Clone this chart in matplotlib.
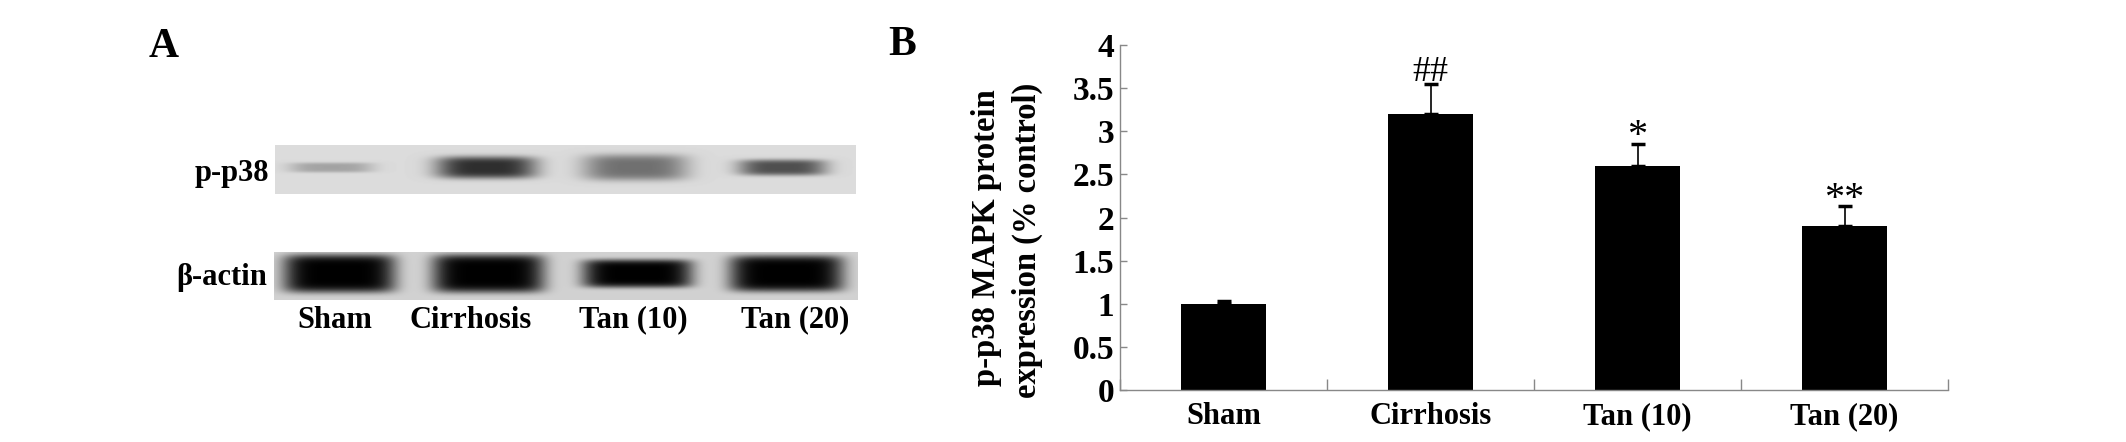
import numpy as np
import matplotlib
matplotlib.use("Agg")
import matplotlib.pyplot as plt

W = 2126
H = 442

categories = ["Sham", "Cirrhosis", "Tan (10)", "Tan (20)"]
expression = [1.0, 3.2, 2.6, 1.9]
errors = [0.03, 0.35, 0.25, 0.23]
marks = ["", "##", "*", "**"]
y_ticks = [0, 0.5, 1, 1.5, 2, 2.5, 3, 3.5, 4]
y_labels = ["0", "0.5", "1", "1.5", "2", "2.5", "3", "3.5", "4"]

# bands: centre and half size in pixels, darkness
p38_x = [331, 486, 635, 782]
p38_half_w = [42, 50, 52, 44]
p38_half_h = [5, 11, 13, 8]
p38_dark = [0.22, 0.68, 0.42, 0.55]
actin_x = [339, 488, 637, 786]
actin_half_w = [56, 56, 55, 57]
actin_half_h = [19, 19, 14, 18]
actin_dark = [0.82, 0.82, 0.82, 0.82]

plt.rcParams["font.family"] = ["Liberation Serif", "DejaVu Serif"]
plt.rcParams["font.weight"] = "bold"


def px_axes(fig, x0, y0, x1, y1):
    # pixel box with y counted from the top of the image
    return fig.add_axes([x0 / W, 1 - y1 / H, (x1 - x0) / W, (y1 - y0) / H])


def draw_blot(fig, box, centres, half_w, half_h, darks, back, y_mid, power):
    x0, y0, x1, y1 = box
    ax = px_axes(fig, x0, y0, x1, y1)
    xx, yy = np.meshgrid(np.arange(x0, x1), np.arange(y0, y1))
    img = np.zeros(xx.shape)
    for c, a, b, d in zip(centres, half_w, half_h, darks):
        r = np.abs((xx - c) / a) ** power + np.abs((yy - y_mid) / b) ** power
        img = img + d * np.exp(-r)
    ax.imshow(back - img, cmap="gray", vmin=0, vmax=1, aspect="auto", interpolation="bilinear")
    ax.axis("off")


fig = plt.figure(figsize=(W / 100, H / 100), dpi=100, facecolor="white")

draw_blot(fig, (275, 145, 856, 194), p38_x, p38_half_w, p38_half_h, p38_dark, 0.86, 167, 4)
draw_blot(fig, (274, 252, 858, 300), actin_x, actin_half_w, actin_half_h, actin_dark, 0.82, 273, 6)

fig.text(149 / W, 1 - 47 / H, "A", fontsize=30, ha="left", va="center")
fig.text(888 / W, 1 - 45 / H, "B", fontsize=30, ha="left", va="center")
fig.text(269 / W, 1 - 174 / H, "p-p38", fontsize=22, ha="right", va="center")
fig.text(267 / W, 1 - 277 / H, "β-actin", fontsize=22, ha="right", va="center")
for name, x in zip(categories, [335, 471, 633, 795]):
    fig.text(x / W, 1 - 320 / H, name, fontsize=22, ha="center", va="center")

ax = px_axes(fig, 1120, 45, 1948, 390)
pos = np.arange(len(categories)) + 0.5
ax.bar(pos, expression, width=0.406, color="black")
ax.errorbar(pos, expression, yerr=[np.zeros(4), errors], fmt="none", ecolor="black",
            elinewidth=1.2, capsize=5, capthick=2.5)
for x, v, e, m in zip(pos, expression, errors, marks):
    # the asterisk sits high in its glyph box, so it needs a bigger drop
    if "*" in m:
        ax.text(x, v + e - 0.13, m, fontsize=29, fontweight="normal", ha="center", va="bottom")
    else:
        ax.text(x, v + e - 0.06, m, fontsize=26, fontweight="normal", ha="center", va="bottom")

ax.set_xlim(0, 4)
ax.set_ylim(0, 4)
ax.set_yticks(y_ticks)
ax.set_yticklabels(y_labels, fontsize=24)
ax.set_xticks([0, 1, 2, 3, 4])
ax.set_xticklabels([])
ax.set_xticks(pos, minor=True)
ax.set_xticklabels(categories, minor=True, fontsize=22)
ax.tick_params(axis="x", which="major", direction="in", length=8, color="#888888", width=1)
ax.tick_params(axis="x", which="minor", length=0, pad=9)
ax.tick_params(axis="y", direction="in", length=5, color="#888888", width=1, pad=4)
for side in ["top", "right"]:
    ax.spines[side].set_visible(False)
for side in ["left", "bottom"]:
    ax.spines[side].set_color("#888888")
    ax.spines[side].set_linewidth(1)

fig.text(987 / W, 1 - 238 / H, "p-p38 MAPK protein", fontsize=23.5, rotation=90, ha="center", va="center")
fig.text(1027 / W, 1 - 240 / H, "expression (% control)", fontsize=23.5, rotation=90, ha="center", va="center")

fig.savefig("out.png", dpi=100)
